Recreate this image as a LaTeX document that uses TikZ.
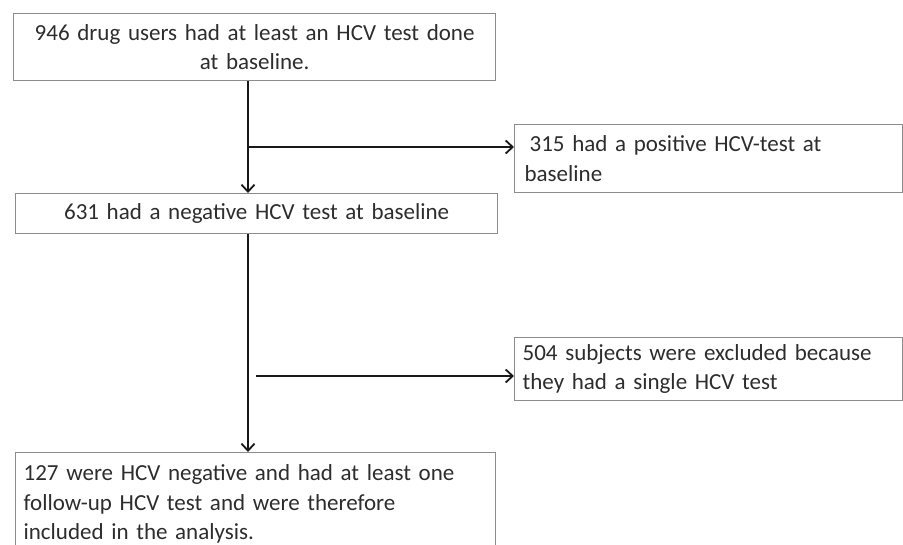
\documentclass[tikz,border=0pt]{standalone}
\usepackage{fontspec}
\setmainfont{Carlito}
\usetikzlibrary{arrows.meta}
\definecolor{boxgray}{RGB}{140,140,140}
\definecolor{textgray}{RGB}{45,45,45}
\definecolor{arrgray}{RGB}{25,25,25}
\begin{document}
\begin{tikzpicture}[x=1pt,y=-1pt,
  box/.style={draw=boxgray, line width=1.3pt, inner ysep=0pt, anchor=north west,
    font=\fontsize{23}{29.5}\selectfont, text=textgray},
  arr/.style={draw=arrgray, line width=2pt, -{Straight Barb[length=7pt,width=13pt,line width=1.8pt]}}
  ]
\useasboundingbox (0,0) rectangle (903,544);
\node[box, inner xsep=6pt, text width=470pt, minimum height=67pt, align=center] (b1) at (13,13)
  {946 drug users had at least an HCV test done\\at baseline.};
\node[box, inner xsep=6pt, text width=470pt, minimum height=40pt, align=center] (b2) at (15,193)
  {631 had a negative HCV test at baseline};
\node[box, inner xsep=10pt, text width=368pt, minimum height=68pt, align=left] (b3) at (514,124)
  {\hspace{5pt}315 had a positive HCV-test at\\baseline};
\node[box, inner xsep=8pt, text width=372pt, minimum height=63pt, align=left] (b5) at (514,337)
  {504 subjects were excluded because\\they had a single HCV test};
\node[box, inner xsep=8pt, text width=464pt, minimum height=103pt, align=left] (b4) at (15,452)
  {127 were HCV negative and had at least one\\follow-up HCV test and were therefore\\included in the analysis.};
\coordinate (v) at (248,0);
\coordinate (j1) at (248,147);
\coordinate (j2) at (256,376);
\draw[arr] (b1.south -| v) -- (b2.north -| v);
\draw[arr] (j1) -- (j1 -| b3.west);
\draw[arr] (b2.south -| v) -- (b4.north -| v);
\draw[arr] (j2) -- (j2 -| b5.west);
\end{tikzpicture}
\end{document}
